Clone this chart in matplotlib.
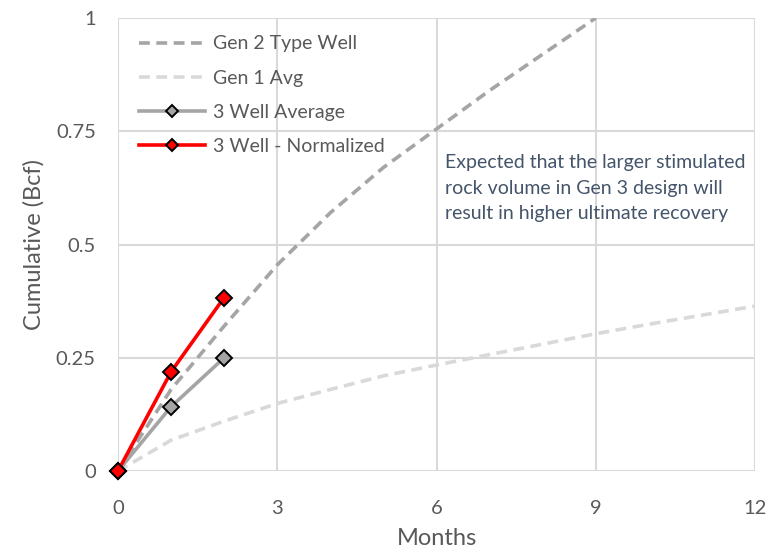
import matplotlib
matplotlib.use("Agg")
import matplotlib.pyplot as plt

plt.rcParams['font.family'] = ['Lato', 'DejaVu Sans']

# cumulative gas (Bcf) by month
gen2_months = [0, 1, 2, 3, 4, 5, 6, 7, 8, 9]
gen2_cum = [0, 0.18, 0.32, 0.455, 0.57, 0.67, 0.755, 0.84, 0.92, 1.0]

gen1_months = [0, 1, 2, 3, 4, 5, 6, 7, 8, 9, 10, 11, 12]
gen1_cum = [0, 0.068, 0.11, 0.149, 0.18, 0.21, 0.234, 0.257, 0.28, 0.303, 0.324, 0.344, 0.364]

well_months = [0, 1, 2]
avg_cum = [0, 0.142, 0.25]
norm_cum = [0, 0.219, 0.383]

xticks = [0, 3, 6, 9, 12]
yticks = [0, 0.25, 0.5, 0.75, 1]
ytick_labels = ['0', '0.25', '0.5', '0.75', '1']

note = ("Expected that the larger stimulated\n"
        "rock volume in Gen 3 design will\n"
        "result in higher ultimate recovery")

fig = plt.figure(figsize=(7.69, 5.52), dpi=100)
ax = fig.add_axes([118 / 769, 1 - 471 / 552, 637 / 769, 453 / 552])

ax.plot(gen2_months, gen2_cum, color='#A5A5A5', lw=2.6, ls=(0, (3, 1.8)),
        label='Gen 2 Type Well')
ax.plot(gen1_months, gen1_cum, color='#D9D9D9', lw=2.6, ls=(0, (3, 1.8)),
        label='Gen 1 Avg')
ax.plot(well_months, avg_cum, color='#A5A5A5', lw=2.6, marker='D', ms=8,
        mfc='#A5A5A5', mec='black', mew=1.4, label='3 Well Average', clip_on=False)
ax.plot(well_months, norm_cum, color='#FF0000', lw=2.6, marker='D', ms=8,
        mfc='#FF0000', mec='black', mew=1.4, label='3 Well - Normalized', clip_on=False)

ax.set_xlim(0, 12)
ax.set_ylim(0, 1)
ax.set_xticks(xticks)
ax.set_yticks(yticks)
ax.set_yticklabels(ytick_labels)
ax.grid(True, color='#D9D9D9', lw=1.5)
ax.set_axisbelow(True)
for s in ax.spines.values():
    s.set_visible(False)
ax.tick_params(length=0, labelsize=14.5, labelcolor='#595959')
ax.tick_params(axis='x', pad=21)
ax.tick_params(axis='y', pad=16)

ax.set_xlabel('Months', fontsize=17, color='#595959', labelpad=8)
ax.set_ylabel('Cumulative (Bcf)', fontsize=17, color='#595959', labelpad=8)

leg = ax.legend(loc='upper left', bbox_to_anchor=(0.005, 1.0), frameon=False,
                fontsize=14, handlelength=3.4, labelspacing=0.88,
                handletextpad=0.4, borderaxespad=0.5, markerscale=0.8)
for t in leg.get_texts():
    t.set_color('#595959')

ax.text(0.513, 0.70, note, transform=ax.transAxes, fontsize=14,
        color='#44546A', va='top', ha='left', linespacing=1.62)

fig.savefig('out.png', dpi=100)
